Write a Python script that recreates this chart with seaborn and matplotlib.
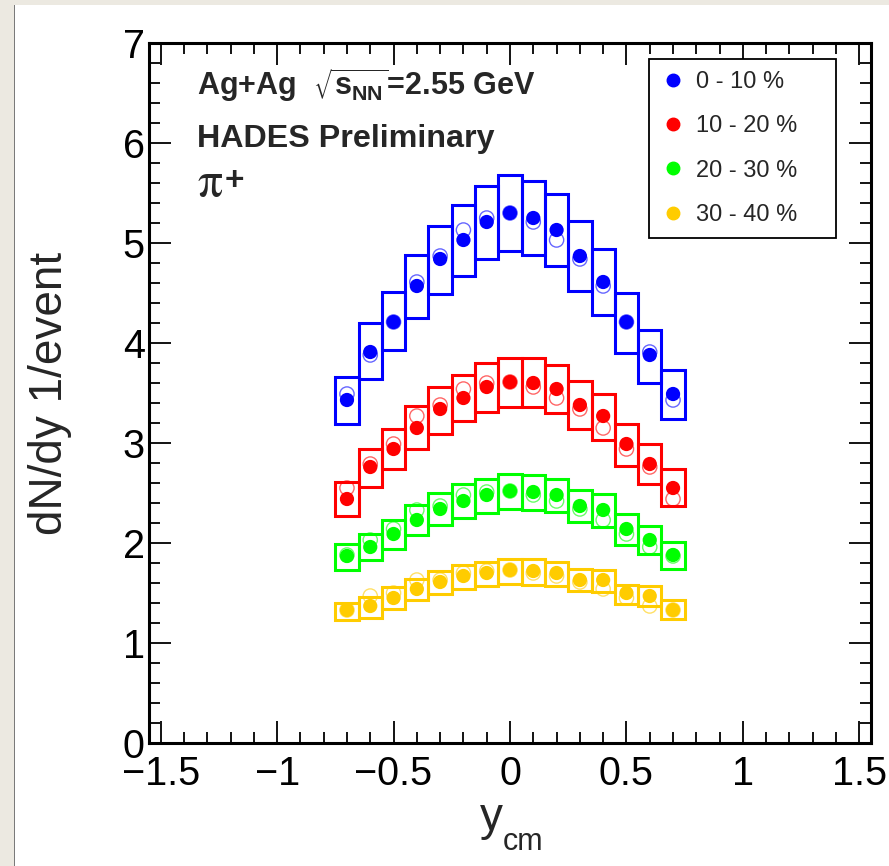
import numpy as np
import pandas as pd
import matplotlib
matplotlib.use("Agg")
import matplotlib.pyplot as plt
import seaborn as sns
from matplotlib.lines import Line2D
from matplotlib.patches import Rectangle
from matplotlib.ticker import MultipleLocator, FuncFormatter

# ---------------- data ----------------
rapidity = [-0.7, -0.6, -0.5, -0.4, -0.3, -0.2, -0.1, 0.0, 0.1, 0.2, 0.3, 0.4, 0.5, 0.6, 0.7]
centralities = ["0 - 10 %", "10 - 20 %", "20 - 30 %", "30 - 40 %"]
colors = ["#0000FF", "#FF0000", "#00FF00", "#FFCC00"]

dndy_0_10 = [3.43, 3.91, 4.21, 4.57, 4.84, 5.03, 5.21, 5.30, 5.25, 5.13, 4.87, 4.61, 4.21, 3.88, 3.49]
syshi_0_10 = [3.66, 4.20, 4.51, 4.88, 5.17, 5.38, 5.57, 5.68, 5.62, 5.49, 5.22, 4.94, 4.50, 4.13, 3.73]
syslo_0_10 = [3.19, 3.64, 3.93, 4.25, 4.49, 4.67, 4.84, 4.92, 4.88, 4.77, 4.52, 4.28, 3.90, 3.60, 3.24]

dndy_10_20 = [2.44, 2.76, 2.94, 3.15, 3.34, 3.45, 3.56, 3.61, 3.60, 3.54, 3.38, 3.27, 2.99, 2.79, 2.55]
syshi_10_20 = [2.61, 2.94, 3.14, 3.37, 3.56, 3.68, 3.80, 3.85, 3.85, 3.78, 3.62, 3.49, 3.19, 2.99, 2.74]
syslo_10_20 = [2.27, 2.56, 2.74, 2.94, 3.09, 3.22, 3.31, 3.36, 3.36, 3.30, 3.14, 3.03, 2.77, 2.59, 2.37]

dndy_20_30 = [1.87, 1.96, 2.09, 2.23, 2.34, 2.42, 2.48, 2.52, 2.51, 2.48, 2.37, 2.33, 2.14, 2.03, 1.88]
syshi_20_30 = [1.99, 2.09, 2.23, 2.38, 2.50, 2.59, 2.64, 2.69, 2.68, 2.64, 2.53, 2.49, 2.29, 2.17, 2.01]
syslo_20_30 = [1.73, 1.83, 1.94, 2.08, 2.18, 2.25, 2.30, 2.34, 2.33, 2.31, 2.21, 2.16, 1.98, 1.89, 1.74]

dndy_30_40 = [1.33, 1.37, 1.45, 1.54, 1.61, 1.67, 1.70, 1.73, 1.72, 1.70, 1.63, 1.63, 1.50, 1.47, 1.33]
syshi_30_40 = [1.40, 1.46, 1.56, 1.64, 1.72, 1.78, 1.81, 1.84, 1.84, 1.81, 1.74, 1.73, 1.58, 1.57, 1.43]
syslo_30_40 = [1.23, 1.25, 1.34, 1.43, 1.49, 1.54, 1.57, 1.59, 1.58, 1.57, 1.52, 1.51, 1.39, 1.37, 1.24]

x_ticks = [-1.5, -1.0, -0.5, 0.0, 0.5, 1.0, 1.5]
y_ticks = [0, 1, 2, 3, 4, 5, 6, 7]

# --------------- table ----------------
series = [
    (centralities[0], dndy_0_10, syshi_0_10, syslo_0_10),
    (centralities[1], dndy_10_20, syshi_10_20, syslo_10_20),
    (centralities[2], dndy_20_30, syshi_20_30, syslo_20_30),
    (centralities[3], dndy_30_40, syshi_30_40, syslo_30_40),
]
frames = []
for cent, val, hi, lo in series:
    frames.append(pd.DataFrame({
        "y": rapidity,
        "dndy": val,
        "reflected": val[::-1],   # points reflected at mid-rapidity (open symbols)
        "hi": hi,
        "lo": lo,
        "cent": cent,
    }))
df = pd.concat(frames, ignore_index=True)
palette = dict(zip(centralities, colors))

# --------------- style ----------------
sns.set_style("ticks")
plt.rcParams["font.family"] = ["Liberation Sans", "DejaVu Sans"]
plt.rcParams["axes.unicode_minus"] = True

W, H = 889, 866
fig = plt.figure(figsize=(W / 100, H / 100), dpi=100)
fig.patch.set_facecolor("white")
# window border of the original canvas
fig.patches.append(Rectangle((0, 1 - 5 / H), 1, 5 / H, transform=fig.transFigure,
                             facecolor="#ECE9E1", edgecolor="none", zorder=0))
fig.patches.append(Rectangle((0, 0), 13.5 / W, 1, transform=fig.transFigure,
                             facecolor="#ECE9E1", edgecolor="none", zorder=0))
fig.patches.append(Rectangle((13.5 / W, 0), 2 / W, 1 - 5 / H, transform=fig.transFigure,
                             facecolor="#7A7A7A", edgecolor="none", zorder=0))

ax = fig.add_axes([149 / W, 1 - 743 / H, 722 / W, 700 / H])
ax.set_facecolor("white")

# systematic boxes
for cent, sub in df.groupby("cent", sort=False):
    ax.bar(sub["y"], sub["hi"] - sub["lo"], bottom=sub["lo"], width=0.1,
           fill=False, edgecolor=palette[cent], linewidth=2.2, zorder=2)

# reflected (open) points
for cent, sub in df.groupby("cent", sort=False):
    ax.scatter(sub["y"], sub["reflected"], s=105, facecolors="none",
               edgecolors=palette[cent], linewidths=1.0, alpha=0.6, zorder=3)

# measured (full) points
sns.scatterplot(data=df, x="y", y="dndy", hue="cent", palette=palette,
                s=105, linewidth=0, legend=False, ax=ax, zorder=4)

# --------------- axes ----------------
ax.set_xlim(-1.55, 1.55)
ax.set_ylim(0, 7)
ax.set_xticks(x_ticks)
ax.set_yticks(y_ticks)
ax.xaxis.set_minor_locator(MultipleLocator(0.1))
ax.yaxis.set_minor_locator(MultipleLocator(0.2))
fmt = FuncFormatter(lambda v, p: ("%g" % v).replace("-", "\u2212"))
ax.xaxis.set_major_formatter(fmt)
ax.yaxis.set_major_formatter(fmt)
ax.tick_params(which="both", direction="in", top=True, right=True, colors="black")
ax.tick_params(which="major", length=15.8, width=1.3, labelsize=28.5)
ax.tick_params(which="minor", length=7.9, width=1.3)
ax.tick_params(axis="x", which="major", pad=8.5)
ax.tick_params(axis="y", which="major", pad=3)
for sp in ax.spines.values():
    sp.set_linewidth(2.2)
    sp.set_color("black")

ax.set_xlabel("y", fontsize=33, va="top")
ax.xaxis.set_label_coords((491 - 149) / 722, -0.075)
fig.text(503 / W, 1 - 850 / H, "cm", fontsize=22, ha="left", va="baseline")
ax.set_ylabel("dN/dy 1/event", fontsize=33, va="center")
ax.yaxis.set_label_coords(-0.137, 0.5)

# --------------- texts ----------------
ax.text(-1.342, 6.48, r"Ag+Ag  $\mathregular{\sqrt{s_{NN}}}$=2.55 GeV",
        fontsize=22, fontweight="bold", va="baseline", ha="left")
ax.text(-1.342, 5.96, "HADES Preliminary",
        fontsize=23.2, fontweight="bold", va="baseline", ha="left")
ax.text(-1.345, 5.46, r"$\mathrm{\pi}$", fontsize=36,
        math_fontfamily="stix", va="baseline", ha="left")
ax.text(-1.225, 5.53, "+", fontsize=24, fontweight="bold",
        va="baseline", ha="left")

# --------------- legend ----------------
handles = [Line2D([], [], marker="o", linestyle="none", markersize=9,
                  markerfacecolor=c, markeredgecolor=c) for c in colors]
leg = ax.legend(handles, centralities, loc="upper left",
                bbox_to_anchor=(500 / 722, 684 / 700, 187 / 722, 0), mode="expand",
                fontsize=17, frameon=True, fancybox=False, framealpha=1,
                edgecolor="black", borderpad=0.5, labelspacing=0.95,
                handlelength=1.0, handletextpad=0.5, borderaxespad=0)
leg.get_frame().set_linewidth(1.3)

fig.savefig("out.png", dpi=100)
